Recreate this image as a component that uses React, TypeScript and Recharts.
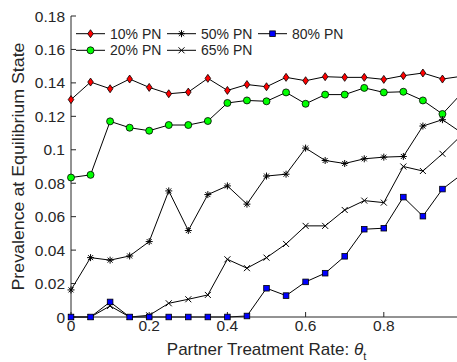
import { LineChart, Line, XAxis, YAxis, Legend } from 'recharts';

// partner treatment rate (theta_t)
const rates = [0, 0.05, 0.1, 0.15, 0.2, 0.25, 0.3, 0.35, 0.4, 0.45, 0.5, 0.55, 0.6, 0.65, 0.7, 0.75, 0.8, 0.85, 0.9, 0.95, 1];

const pn10 = [0.13, 0.1405, 0.1365, 0.1423, 0.1373, 0.1335, 0.1345, 0.1427, 0.1355, 0.139, 0.1377, 0.1433, 0.1413, 0.1437, 0.1433, 0.1433, 0.1421, 0.1443, 0.1459, 0.1423, 0.144];
const pn20 = [0.0834, 0.085, 0.117, 0.1132, 0.1114, 0.1148, 0.1148, 0.1172, 0.128, 0.1295, 0.129, 0.1343, 0.1275, 0.133, 0.133, 0.137, 0.1343, 0.1347, 0.1295, 0.1214, 0.134];
const pn50 = [0.0162, 0.0355, 0.034, 0.0365, 0.0451, 0.0754, 0.0517, 0.0732, 0.0784, 0.0675, 0.0843, 0.0854, 0.101, 0.0936, 0.0918, 0.0946, 0.0956, 0.096, 0.1142, 0.118, 0.11];
const pn65 = [0, 0, 0.0066, 0, 0.001, 0.0082, 0.0106, 0.0132, 0.0345, 0.0292, 0.0355, 0.0437, 0.0545, 0.0545, 0.064, 0.0696, 0.0684, 0.09, 0.0873, 0.0976, 0.109];
const pn80 = [0, 0, 0.009, 0, 0, 0, 0, 0, 0, 0.0006, 0.0172, 0.0128, 0.021, 0.0262, 0.0363, 0.0525, 0.0531, 0.0717, 0.0603, 0.0765, 0.0854];

const xTicks = [0, 0.2, 0.4, 0.6, 0.8];
const yTicks = [0, 0.02, 0.04, 0.06, 0.08, 0.1, 0.12, 0.14, 0.16, 0.18];

const data = rates.map((r, i) => ({
  rate: r,
  pn10: pn10[i],
  pn20: pn20[i],
  pn50: pn50[i],
  pn65: pn65[i],
  pn80: pn80[i],
}));

const FONT = '"Liberation Sans", Arial, Helvetica, sans-serif';
const INK = '#262626';

const fmt = (v: number) => String(Math.round(v * 100) / 100);

// marker shapes, MATLAB style
const Diamond = ({ x, y }: { x: number; y: number }) => (
  <path d={`M${x},${y - 4}L${x + 2.8},${y}L${x},${y + 4}L${x - 2.8},${y}Z`} fill="#ff0000" stroke="#000" strokeWidth={0.8} />
);
const Circle = ({ x, y }: { x: number; y: number }) => (
  <circle cx={x} cy={y} r={3.5} fill="#00ff00" stroke="#000" strokeWidth={0.8} />
);
const Star = ({ x, y }: { x: number; y: number }) => (
  <path
    d={`M${x - 3.5},${y}h7M${x},${y - 3.5}v7M${x - 2.5},${y - 2.5}l5,5M${x - 2.5},${y + 2.5}l5,-5`}
    stroke="#000"
    strokeWidth={1}
    fill="none"
  />
);
const Cross = ({ x, y }: { x: number; y: number }) => (
  <path d={`M${x - 3},${y - 3}l6,6M${x - 3},${y + 3}l6,-6`} stroke="#000" strokeWidth={1} fill="none" />
);
const Square = ({ x, y }: { x: number; y: number }) => (
  <rect x={x - 2.8} y={y - 2.8} width={5.6} height={5.6} fill="#0000ff" stroke="#000" strokeWidth={0.8} />
);

const dotOf = (Shape: any, tag: string) => (p: any) => (
  <g key={`${tag}-${p.index}`}>
    <Shape x={p.cx} y={p.cy} />
  </g>
);

const legendItems = [
  { name: '10% PN', Shape: Diamond, col: 0, row: 0 },
  { name: '20% PN', Shape: Circle, col: 0, row: 1 },
  { name: '50% PN', Shape: Star, col: 1, row: 0 },
  { name: '65% PN', Shape: Cross, col: 1, row: 1 },
  { name: '80% PN', Shape: Square, col: 2, row: 0 },
];
const colX = [6, 97, 188];
const rowY = [9.7, 26.3];

const renderLegend = () => (
  <svg width={290} height={40} style={{ display: 'block' }}>
    {legendItems.map((it) => {
      const x0 = colX[it.col];
      const y0 = rowY[it.row];
      return (
        <g key={it.name}>
          <line x1={x0} x2={x0 + 29} y1={y0} y2={y0} stroke="#000" strokeWidth={1} />
          <it.Shape x={x0 + 14.5} y={y0} />
          <text x={x0 + 34} y={y0} dominantBaseline="central" fontSize={14} fontFamily={FONT} fill={INK}>
            {it.name}
          </text>
        </g>
      );
    })}
  </svg>
);

const renderXLabel = (props: any) => {
  const { x, y, width } = props.viewBox;
  return (
    <text x={x + width / 2} y={y + 38} textAnchor="middle" fontSize={17} fontFamily={FONT} fill={INK}>
      Partner Treatment Rate: <tspan fontStyle="italic">θ</tspan>
      <tspan fontSize={11} dy={5}>t</tspan>
    </text>
  );
};

const renderYLabel = (props: any) => {
  const { y, height } = props.viewBox;
  return (
    <text
      x={0}
      y={0}
      transform={`translate(24, ${y + height / 2}) rotate(-90)`}
      textAnchor="middle"
      fontSize={16}
      fontFamily={FONT}
      fill={INK}
      textLength={248}
      lengthAdjust="spacingAndGlyphs"
    >
      Prevalence at Equilibrium State
    </text>
  );
};

export default function App() {
  return (
    <div style={{ position: 'fixed', left: 0, top: 0, width: 457, height: 362, overflow: 'hidden', background: '#fff' }}>
      <LineChart width={470} height={362} data={data} margin={{ top: 16, right: 8, bottom: 0, left: 0 }}>
        <XAxis
          dataKey="rate"
          type="number"
          domain={[0, 1]}
          ticks={xTicks}
          interval={0}
          height={45}
          tickSize={-5}
          tickMargin={8}
          tickFormatter={fmt}
          stroke={INK}
          tick={{ fontSize: 15.5, fill: INK, fontFamily: FONT }}
          label={{ content: renderXLabel }}
        />
        <XAxis
          xAxisId="top"
          orientation="top"
          dataKey="rate"
          type="number"
          domain={[0, 1]}
          ticks={xTicks}
          interval={0}
          height={0}
          tickSize={-5}
          tick={false}
          stroke={INK}
        />
        <YAxis
          type="number"
          domain={[0, 0.18]}
          ticks={yTicks}
          interval={0}
          width={71}
          tickSize={-5}
          tickMargin={11}
          tickFormatter={fmt}
          stroke={INK}
          tick={{ fontSize: 15.5, fill: INK, fontFamily: FONT }}
          label={{ content: renderYLabel }}
        />
        <Legend
          content={renderLegend}
          layout="horizontal"
          verticalAlign="middle"
          align="center"
          wrapperStyle={{ left: 70, top: 24, width: 290, height: 40 }}
        />
        <Line dataKey="pn10" name="10% PN" stroke="#000" strokeWidth={1} dot={dotOf(Diamond, 'a')} activeDot={false} isAnimationActive={false} />
        <Line dataKey="pn20" name="20% PN" stroke="#000" strokeWidth={1} dot={dotOf(Circle, 'b')} activeDot={false} isAnimationActive={false} />
        <Line dataKey="pn50" name="50% PN" stroke="#000" strokeWidth={1} dot={dotOf(Star, 'c')} activeDot={false} isAnimationActive={false} />
        <Line dataKey="pn65" name="65% PN" stroke="#000" strokeWidth={1} dot={dotOf(Cross, 'd')} activeDot={false} isAnimationActive={false} />
        <Line dataKey="pn80" name="80% PN" stroke="#000" strokeWidth={1} dot={dotOf(Square, 'e')} activeDot={false} isAnimationActive={false} />
      </LineChart>
    </div>
  );
}
